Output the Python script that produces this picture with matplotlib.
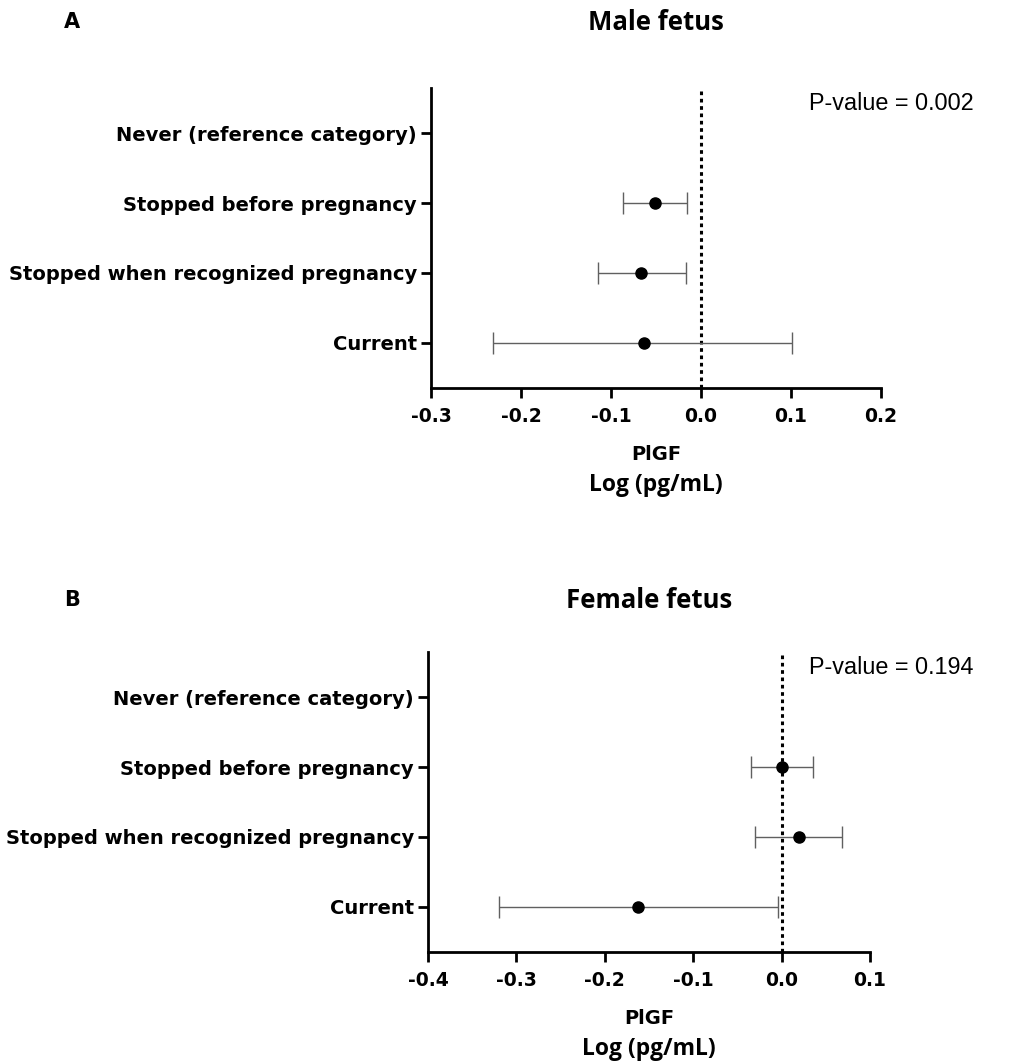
import matplotlib.pyplot as plt
import numpy as np

categories = ['Never (reference category)', 'Stopped before pregnancy',
              'Stopped when recognized pregnancy', 'Current']

# male fetus (panel A); reference category has no estimate
male_est = [np.nan, -0.051, -0.067, -0.063]
male_lo = [np.nan, -0.087, -0.115, -0.231]
male_hi = [np.nan, -0.016, -0.017, 0.101]
male_ticks = [-0.3, -0.2, -0.1, 0.0, 0.1, 0.2]

# female fetus (panel B)
female_est = [np.nan, 0.000, 0.020, -0.162]
female_lo = [np.nan, -0.035, -0.030, -0.320]
female_hi = [np.nan, 0.035, 0.068, -0.004]
female_ticks = [-0.4, -0.3, -0.2, -0.1, 0.0, 0.1]

plt.rcParams['font.family'] = ['Liberation Sans', 'DejaVu Sans']

W, H = 1016, 1064
fig = plt.figure(figsize=(W / 100, H / 100), dpi=100)

heavy = dict(family=['DejaVu Sans'], fontweight='bold')
soft = dict(family=['Open Sans', 'DejaVu Sans'], fontweight='bold')


def forest(rect, est, lo, hi, ticks, title, letter, pval, title_y):
    ax = fig.add_axes(rect)
    est = np.array(est)
    lo = np.array(lo)
    hi = np.array(hi)
    y = np.arange(len(categories))
    ax.errorbar(est, y, xerr=[est - lo, hi - est], fmt='none', ecolor='#606060',
                elinewidth=1.0, capsize=8, capthick=1.0, zorder=2)
    ax.plot(est, y, 'o', color='black', markersize=8, zorder=3)
    ax.axvline(0, color='black', linestyle=(0, (1.2, 1.2)), linewidth=2.2, zorder=1)
    ax.set_xlim(ticks[0], ticks[-1])
    ax.set_ylim(3.65, -0.65)
    ax.set_yticks(y)
    ax.set_yticklabels(categories, fontsize=14, **heavy)
    ax.set_xticks(ticks)
    ax.set_xticklabels(['%.1f' % t for t in ticks], fontsize=13.5, **heavy)
    for s in ['top', 'right']:
        ax.spines[s].set_visible(False)
    for s in ['left', 'bottom']:
        ax.spines[s].set_linewidth(2)
    ax.tick_params(axis='y', width=2, length=7, direction='out', pad=3)
    ax.tick_params(axis='x', width=2, length=7, direction='out', pad=7)
    cx = rect[0] + rect[2] / 2
    bottom = rect[1]
    fig.text(cx, bottom - 66 / H, 'PlGF', ha='center', va='center', fontsize=14, **heavy)
    fig.text(cx, bottom - 97 / H, 'Log (pg/mL)', ha='center', va='center', fontsize=16.5, **soft)
    fig.text(cx, title_y, title, ha='center', va='center', fontsize=18.5, **soft)
    fig.text(72 / W, title_y, letter, ha='center', va='center', fontsize=15, **heavy)
    fig.text(809 / W, rect[1] + rect[3] - 16 / H, pval, ha='left', va='center', fontsize=16.8)
    return ax


forest([431 / W, 1 - 388 / H, 450 / W, 300 / H], male_est, male_lo, male_hi, male_ticks,
       'Male fetus', 'A', 'P-value = 0.002', 1 - 22 / H)
forest([428 / W, 1 - 952 / H, 442 / W, 300 / H], female_est, female_lo, female_hi, female_ticks,
       'Female fetus', 'B', 'P-value = 0.194', 1 - 600 / H)

plt.savefig('out.png', dpi=100)
